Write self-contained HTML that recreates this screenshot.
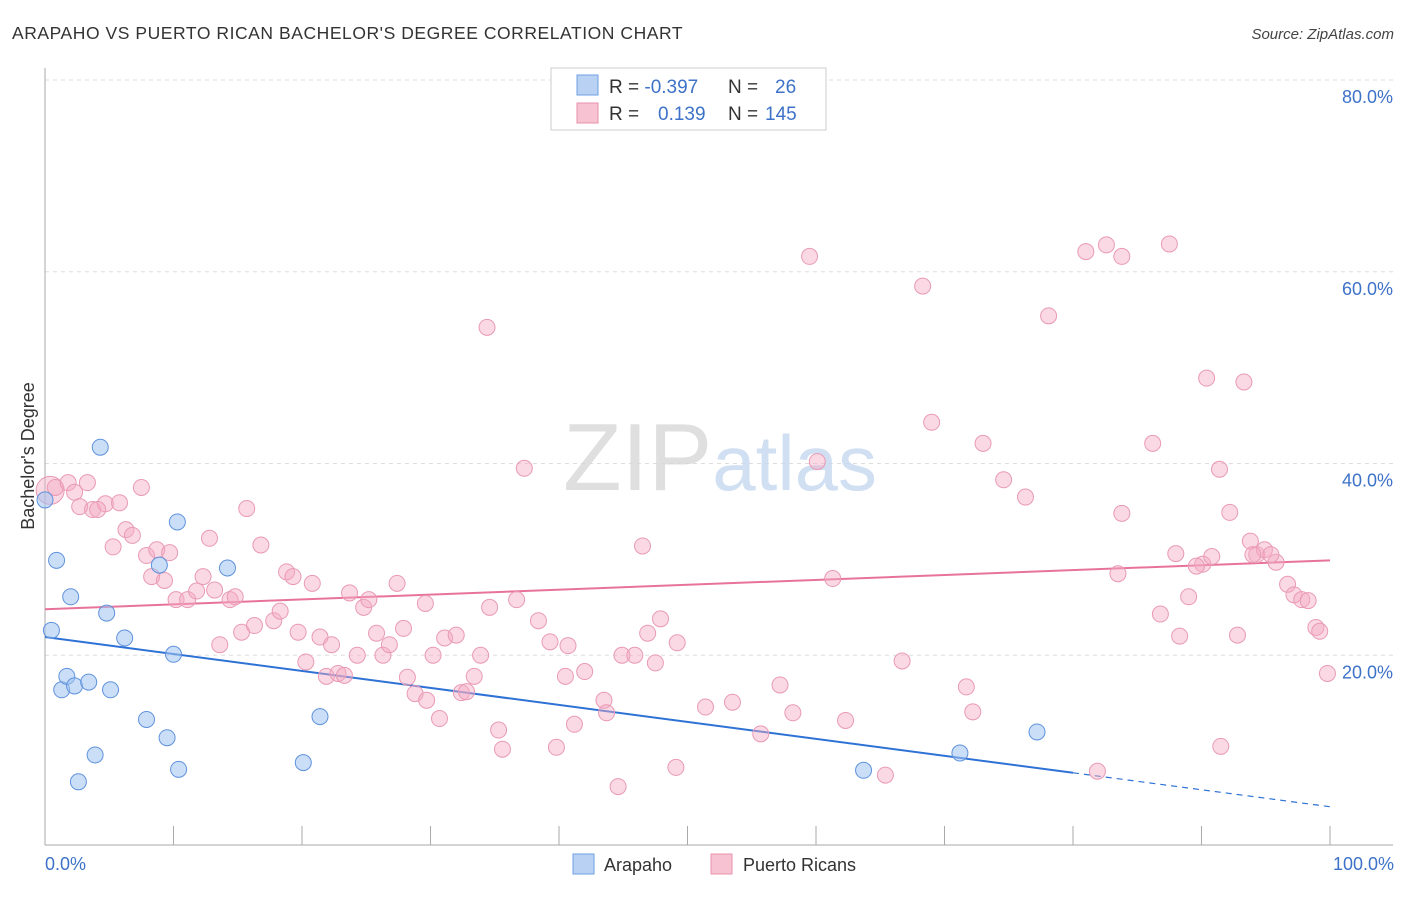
<!DOCTYPE html>
<html><head><meta charset="utf-8"><style>
body{margin:0;background:#fff;font-family:"Liberation Sans",sans-serif}
svg text{font-family:"Liberation Sans",sans-serif}
</style></head><body>
<svg id="chart" width="1406" height="892" xmlns="http://www.w3.org/2000/svg">
<text x="12" y="39" font-size="17.5" fill="#333" letter-spacing="0.55">ARAPAHO VS PUERTO RICAN BACHELOR'S DEGREE CORRELATION CHART</text>
<text x="1394" y="39" font-size="15" fill="#444" text-anchor="end" font-style="italic">Source: ZipAtlas.com</text>
<g id="grid"></g>
<text x="720" y="490" font-size="96" text-anchor="middle" font-family="Liberation Serif" fill="#ddd" opacity="0.8"><tspan fill="#d8d8d8">ZIP</tspan><tspan fill="#c5d8f0" font-family="Liberation Sans" font-size="78">atlas</tspan></text>
<g id="axes"></g>
<g id="trend"></g>
<g id="points"></g>
<text transform="translate(34,456) rotate(-90)" font-size="18" fill="#333" text-anchor="middle">Bachelor's Degree</text>
<text x="45" y="870" font-size="18" fill="#3d72c8">0.0%</text>
<text x="1394" y="870" font-size="18" fill="#3d72c8" text-anchor="end">100.0%</text>
<g>
<rect x="551" y="68" width="275" height="62" fill="#fff" stroke="#ccc"/>
<rect x="577" y="75" width="21" height="20" fill="#b9d1f3" stroke="#6f9fe0"/>
<rect x="577" y="103" width="21" height="20" fill="#f7c3d3" stroke="#e890ab"/>
<text x="609" y="93" font-size="19" fill="#333">R = <tspan fill="#3d72c8">-0.397</tspan><tspan x="728">N = </tspan><tspan x="775" fill="#3d72c8">26</tspan></text>
<text x="609" y="120" font-size="19" fill="#333">R = <tspan x="658" fill="#3d72c8">0.139</tspan><tspan x="728">N = </tspan><tspan x="765" fill="#3d72c8">145</tspan></text>
</g>
<g>
<rect x="573" y="854" width="21" height="20" fill="#b9d1f3" stroke="#6f9fe0"/>
<text x="604" y="871" font-size="18" fill="#333">Arapaho</text>
<rect x="711" y="854" width="21" height="20" fill="#f7c3d3" stroke="#e890ab"/>
<text x="743" y="871" font-size="18" fill="#333">Puerto Ricans</text>
</g>
</svg>
<script>
const yTicks=[20,40,60,80];
const xTicks=[0,10,20,30,40,50,60,70,80,90,100];
const blueX=[0,0.9,0.5,2.0,4.3,4.8,6.2,1.3,1.7,2.3,3.4,5.1,7.9,9.5,3.9,2.6,10.4,10.3,8.9,10.0,14.2,21.4,20.1,63.7,71.2,77.2];
const blueY=[36.2,29.9,22.6,26.1,41.7,24.4,21.8,16.4,17.8,16.8,17.2,16.4,13.3,11.4,9.6,6.8,8.1,33.9,29.4,20.1,29.1,13.6,8.8,8.0,9.8,12.0];
const pinkX=[0.4,0.8,1.8,2.3,3.3,2.7,3.7,4.7,4.1,5.8,7.5,6.3,6.8,5.3,7.9,8.7,9.7,8.3,9.3,10.2,11.1,11.8,12.3,12.8,13.2,13.6,14.4,14.8,15.7,15.3,16.3,16.8,17.8,18.3,18.8,19.3,20.8,19.7,20.3,21.4,21.9,22.3,22.8,23.3,23.7,24.8,25.2,24.3,25.8,26.3,26.8,27.4,27.9,28.2,28.8,29.6,29.7,30.2,30.7,31.1,32.0,32.4,32.8,33.4,33.9,34.6,34.4,35.3,35.6,36.7,37.3,38.4,39.3,39.8,40.5,40.7,41.2,42.0,43.5,43.7,44.6,44.9,45.9,46.5,46.9,47.5,47.9,49.2,49.1,51.4,53.5,55.7,57.2,58.2,59.5,60.1,61.3,62.3,65.4,66.7,68.3,69.0,71.7,72.2,73.0,74.6,76.3,78.1,81.0,82.6,83.8,81.9,83.5,83.8,86.8,87.5,86.2,88.0,88.3,89.0,90.1,90.4,90.8,91.4,91.5,92.2,92.8,93.3,93.8,94.3,94.9,95.8,96.7,97.2,97.8,98.3,98.9,99.2,99.8,95.4,94.0,89.6];
const pinkY=[37.2,37.5,38.0,37.0,38.0,35.5,35.2,35.8,35.2,35.9,37.5,33.1,32.5,31.3,30.4,31.0,30.7,28.2,27.8,25.8,25.8,26.7,28.2,32.2,26.8,21.1,25.8,26.1,35.3,22.4,23.1,31.5,23.6,24.6,28.7,28.2,27.5,22.4,19.3,21.9,17.8,21.1,18.1,17.9,26.5,25.0,25.8,20.0,22.3,20.0,21.1,27.5,22.8,17.7,16.0,25.4,15.3,20.0,13.4,21.8,22.1,16.1,16.2,17.8,20.0,25.0,54.2,12.2,10.2,25.8,39.5,23.6,21.4,10.4,17.8,21.0,12.8,18.3,15.3,14.0,6.3,20.0,20.0,31.4,22.3,19.2,23.8,21.3,8.3,14.6,15.1,11.8,16.9,14.0,61.6,40.2,28.0,13.2,7.5,19.4,58.5,44.3,16.7,14.1,42.1,38.3,36.5,55.4,62.1,62.8,61.6,7.9,28.5,34.8,24.3,62.9,42.1,30.6,22.0,26.1,29.5,48.9,30.3,39.4,10.5,34.9,22.1,48.5,31.9,30.5,31.0,29.7,27.4,26.3,25.8,25.7,22.9,22.5,18.1,30.5,30.5,29.3];
const blueTrend=[21.9,4.2]; const blueSolidEnd=80;
const pinkTrend=[24.8,29.9];
const NS="http://www.w3.org/2000/svg";
const X0=45,X1=1330,Y0=847,Y80=80;
function sx(v){return X0+(X1-X0)*v/100;}
function sy(v){return Y0-(Y0-Y80)*v/80;}
function mk(t,a,p){const e=document.createElementNS(NS,t);for(const k in a)e.setAttribute(k,a[k]);p.appendChild(e);return e;}
const grid=document.getElementById('grid');
yTicks.forEach(t=>{
 const l=mk('line',{x1:45,x2:1393,y1:sy(t),y2:sy(t),stroke:'#ddd','stroke-dasharray':'4,4'},grid);
 
 
 const tx=mk('text',{x:1393,y:sy(t)+23,'font-size':18,fill:'#3d72c8','text-anchor':'end'},grid);
 tx.textContent=t.toFixed(1)+'%';
 
 
});
const axes=document.getElementById('axes');
mk('line',{x1:45,x2:45,y1:68,y2:845,stroke:'#aaa'},axes);
mk('line',{x1:45,x2:1393,y1:845,y2:845,stroke:'#aaa'},axes);
xTicks.forEach(t=>{
 const l=mk('line',{x1:sx(t),x2:sx(t),y1:826,y2:845,stroke:'#aaa'},axes);
 
 
});
const tr=document.getElementById('trend');
const bs=blueTrend[0]+(blueTrend[1]-blueTrend[0])*blueSolidEnd/100;
let e=mk('line',{x1:sx(0),y1:sy(blueTrend[0]),x2:sx(blueSolidEnd),y2:sy(bs),stroke:'#2f72d6','stroke-width':2},tr);


e=mk('line',{x1:sx(blueSolidEnd),y1:sy(bs),x2:sx(100),y2:sy(blueTrend[1]),stroke:'#2f72d6','stroke-width':1.2,'stroke-dasharray':'6,5'},tr);


e=mk('line',{x1:sx(0),y1:sy(pinkTrend[0]),x2:sx(100),y2:sy(pinkTrend[1]),stroke:'#e8739a','stroke-width':2},tr);


const pts=document.getElementById('points');
pinkX.forEach((x,i)=>{
 const c=mk('circle',{cx:sx(x),cy:sy(pinkY[i]),r:i==0?14:8,fill:'rgba(244,170,195,0.45)',stroke:'#e99ab4','stroke-width':1},pts);
 
 
});
blueX.forEach((x,i)=>{
 const c=mk('circle',{cx:sx(x),cy:sy(blueY[i]),r:8,fill:'rgba(160,195,240,0.55)',stroke:'#5f92dc','stroke-width':1},pts);
 
 
});
</script>
</body></html>
